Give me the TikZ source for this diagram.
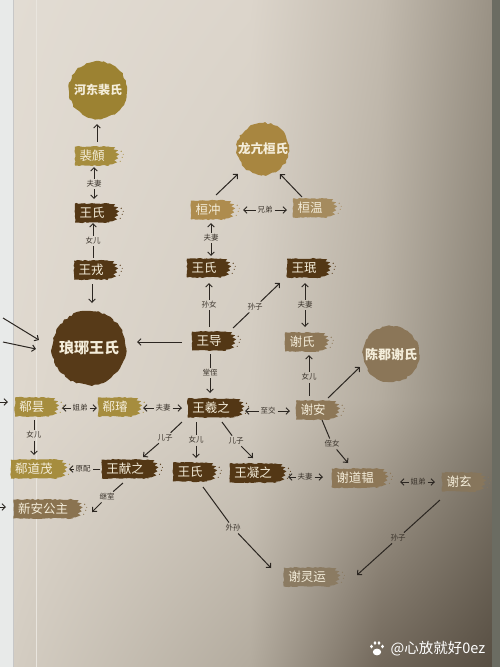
\documentclass[tikz,border=0pt]{standalone}
\usepackage{fontspec}
\setmainfont{Noto Sans CJK SC}
\newfontfamily\cjk{Noto Sans CJK SC}
\usetikzlibrary{arrows.meta,decorations.pathmorphing,shadings}
\definecolor{gA}{HTML}{E2DCD3}\definecolor{gB}{HTML}{DCD5CB}\definecolor{gC}{HTML}{C3BBAF}\definecolor{gD}{HTML}{9A9285}
\definecolor{gE}{HTML}{DFD8CE}\definecolor{gF}{HTML}{D2CBC0}\definecolor{gG}{HTML}{B4AC9F}\definecolor{gH}{HTML}{878073}
\definecolor{gI}{HTML}{D4CDC2}\definecolor{gJ}{HTML}{B3AB9E}\definecolor{gK}{HTML}{71675A}\definecolor{gL}{HTML}{574E42}
\definecolor{lstrip}{HTML}{E8EAE9}\definecolor{rstrip}{HTML}{6B6C62}
\definecolor{dkb}{HTML}{533715}
\definecolor{gold}{HTML}{A68D3E}
\definecolor{tanA}{HTML}{AE8C4E}
\definecolor{tanB}{HTML}{A58B5E}
\definecolor{taupe}{HTML}{8D7757}
\definecolor{xinanc}{HTML}{8A7350}
\definecolor{xlyc}{HTML}{8B7B62}
\definecolor{xxc}{HTML}{87765C}
\definecolor{cHD}{HTML}{9C8232}
\definecolor{cLK}{HTML}{A88640}
\definecolor{cLY}{HTML}{573A18}
\definecolor{cCJ}{HTML}{8B7658}
\definecolor{txtc}{HTML}{F4EDDA}
\definecolor{lnc}{HTML}{2B2621}
\definecolor{lbc}{HTML}{3A332B}
\tikzset{
  brushbox/.style={rectangle, fill=#1, text=txtc, font=\cjk\fontsize{12.5}{12.5}\selectfont,
    inner xsep=4.5pt, inner ysep=0pt, minimum height=19pt,
    decorate, decoration={random steps, segment length=2.5pt, amplitude=0.6pt}},
  blob/.style={circle, fill=#1, text=txtc, inner sep=0pt,
    decorate, decoration={random steps, segment length=3pt, amplitude=1pt}},
  ln/.style={draw=lnc, line width=1pt},
  arr/.style={ln, -{Straight Barb[length=3.3pt,width=6.5pt]}},
  rel/.style={font=\cjk\fontsize{7.5}{7.5}\selectfont, text=lbc, inner sep=1.8pt}
}
\newcommand\brushtail[2]{%
  \fill[#2, shift={(#1.north east)}] (-2,0.5) -- (6,1) -- (4,3) -- (9,4) -- (6,6) -- (10,8) -- (7,10)
    -- (9,12) -- (5,14) -- (8,16) -- (3,18) -- (-2,18.5) -- cycle;
  \fill[#2, shift={(#1.north east)}] (12,5) circle (0.7) (13,11) circle (0.6) (11,15) circle (0.6) (14,8) circle (0.5);
}
\begin{document}
\begin{tikzpicture}[x=1pt,y=-1pt]
\useasboundingbox (0,0) rectangle (500,667);
% background page
\shade[upper left=gA, upper right=gB, lower left=gE, lower right=gF] (13,0) rectangle (250,400);
\shade[upper left=gB, upper right=gC, lower left=gF, lower right=gG] (250,0) rectangle (380,400);
\shade[upper left=gC, upper right=gD, lower left=gG, lower right=gH] (380,0) rectangle (492,400);
\shade[upper left=gE, upper right=gF, lower left=gI, lower right=gJ] (13,400) rectangle (250,667);
\shade[upper left=gF, upper right=gG, lower left=gJ, lower right=gK] (250,400) rectangle (380,667);
\shade[upper left=gG, upper right=gH, lower left=gK, lower right=gL] (380,400) rectangle (492,667);
\fill[lstrip] (0,0) rectangle (13,667);
\draw[black!22, line width=0.8pt] (13,0) -- (13,667);
\draw[white!25!gA, line width=0.6pt] (36,0) -- (36,667);
\fill[rstrip] (492,0) rectangle (500,667);

% circles
\node[blob=cHD, minimum size=58pt, font=\cjk\bfseries\fontsize{12}{12}\selectfont] (hedong) at (98,90) {河东裴氏};
\node[blob=cLK, minimum size=52pt, font=\cjk\bfseries\fontsize{12.5}{12.5}\selectfont] (longkang) at (263,149) {龙亢桓氏};
\node[blob=cLY, minimum size=74pt, font=\cjk\bfseries\fontsize{15}{15}\selectfont] (langya) at (89,348) {琅琊王氏};
\node[blob=cCJ, minimum size=56pt, font=\cjk\bfseries\fontsize{13}{13}\selectfont] (chenjun) at (391,354) {陈郡谢氏};

% brush nodes
\node[brushbox=gold] (pei) at (92,156) {裴頠}; \brushtail{pei}{gold}
\node[brushbox=dkb] (wsL) at (92,213) {王氏}; \brushtail{wsL}{dkb}
\node[brushbox=dkb] (wrong) at (91,270) {王戎}; \brushtail{wrong}{dkb}
\node[brushbox=tanA] (hchong) at (208,210) {桓冲}; \brushtail{hchong}{tanA}
\node[brushbox=tanB] (hwen) at (310,208) {桓温}; \brushtail{hwen}{tanB}
\node[brushbox=dkb] (wsC) at (204,268) {王氏}; \brushtail{wsC}{dkb}
\node[brushbox=dkb] (wmin) at (304,268) {王珉}; \brushtail{wmin}{dkb}
\node[brushbox=dkb] (wdao) at (209,341) {王导}; \brushtail{wdao}{dkb}
\node[brushbox=taupe] (xieshi) at (302,342) {谢氏}; \brushtail{xieshi}{taupe}
\node[brushbox=taupe] (xiean) at (313,410) {谢安}; \brushtail{xiean}{taupe}
\node[brushbox=dkb] (wxz) at (211,408) {王羲之}; \brushtail{wxz}{dkb}
\node[brushbox=gold] (xixuan) at (115,407) {郗璿}; \brushtail{xixuan}{gold}
\node[brushbox=gold] (xitan) at (32,407) {郗昙}; \brushtail{xitan}{gold}
\node[brushbox=gold] (xdm) at (34,469) {郗道茂}; \brushtail{xdm}{gold}
\node[brushbox=dkb] (wxianzhi) at (125,469) {王献之}; \brushtail{wxianzhi}{dkb}
\node[brushbox=dkb] (wsM) at (190,472) {王氏}; \brushtail{wsM}{dkb}
\node[brushbox=dkb] (wningzhi) at (253,473) {王凝之}; \brushtail{wningzhi}{dkb}
\node[brushbox=taupe] (xdy) at (355,478) {谢道韫}; \brushtail{xdy}{taupe}
\node[brushbox=xxc] (xiexuan) at (459,482) {谢玄}; \brushtail{xiexuan}{xxc}
\node[brushbox=xinanc] (xinan) at (43,509) {新安公主}; \brushtail{xinan}{xinanc}
\node[brushbox=xlyc] (xly) at (307,577) {谢灵运}; \brushtail{xly}{xlyc}

% connectors
\draw[arr] ([shift={(5,-14)}]pei.center) -- ([shift={(-1,34)}]hedong.center);
\node[rel] (l2) at (94,184) {夫妻};
\draw[arr] (l2) -- ([shift={(2,11)}]pei.center);
\draw[arr] (l2) -- ([shift={(2,-14)}]wsL.center);
\node[rel] (l3) at (93,241) {女儿};
\draw[ln] ([shift={(2,-12)}]wrong.center) -- (l3);
\draw[arr] (l3) -- ([shift={(1,10)}]wsL.center);
\draw[arr] ([shift={(1,14)}]wrong.center) -- ([shift={(3,-45)}]langya.center);
\draw[arr] ([shift={(8,-15)}]hchong.center) -- ([shift={(-25,25)}]longkang.center);
\draw[arr] ([shift={(-8,-11)}]hwen.center) -- ([shift={(17,25)}]longkang.center);
\node[rel] (l7) at (265,210) {兄弟};
\draw[arr] (l7) -- ([shift={(35,0)}]hchong.center);
\draw[arr] (l7) -- ([shift={(-23,2)}]hwen.center);
\node[rel] (l8) at (211,238) {夫妻};
\draw[arr] (l8) -- ([shift={(3,13)}]hchong.center);
\draw[arr] (l8) -- ([shift={(7,-12)}]wsC.center);
\node[rel] (l9) at (209,305) {孙女};
\draw[ln] ([shift={(0,-14)}]wdao.center) -- (l9);
\draw[arr] (l9) -- ([shift={(5,15)}]wsC.center);
\node[rel] (l10) at (255,307) {孙子};
\draw[ln] ([shift={(24,-13)}]wdao.center) -- (l10);
\draw[arr] (l10) -- ([shift={(-24,15)}]wmin.center);
\node[rel] (l11) at (305,305) {夫妻};
\draw[arr] (l11) -- ([shift={(1,15)}]wmin.center);
\draw[arr] (l11) -- ([shift={(3,-15)}]xieshi.center);
\node[rel] (l12) at (309,377) {女儿};
\draw[ln] ([shift={(-4,-14)}]xiean.center) -- (l12);
\draw[arr] (l12) -- ([shift={(7,13)}]xieshi.center);
\draw[arr] ([shift={(15,-12)}]xiean.center) -- ([shift={(-31,13)}]chenjun.center);
\draw[arr] ([shift={(-27,1)}]wdao.center) -- ([shift={(48,-6)}]langya.center);
\coordinate (e1) at (3,318);
\coordinate (e2) at (3,342);
\draw[arr] (e1) -- ([shift={(-50,-8)}]langya.center);
\draw[arr] (e2) -- ([shift={(-53,1)}]langya.center);
\node[rel] (l16) at (210,373) {堂侄};
\draw[ln] ([shift={(1,13)}]wdao.center) -- (l16);
\draw[arr] (l16) -- ([shift={(-1,-15)}]wxz.center);
\node[rel] (l17) at (268,411) {至交};
\draw[arr] (l17) -- ([shift={(34,3)}]wxz.center);
\draw[arr] (l17) -- ([shift={(-23,1)}]xiean.center);
\node[rel] (l18) at (163,408) {夫妻};
\draw[arr] (l18) -- ([shift={(28,1)}]xixuan.center);
\draw[arr] (l18) -- ([shift={(-29,0)}]wxz.center);
\node[rel] (l19) at (80,408) {姐弟};
\draw[arr] (l19) -- ([shift={(30,1)}]xitan.center);
\draw[arr] (l19) -- ([shift={(-18,1)}]xixuan.center);
\coordinate (e3) at (0,402);
\draw[arr] (e3) -- ([shift={(-24,-5)}]xitan.center);
\node[rel] (l21) at (34,435) {女儿};
\draw[ln] ([shift={(2,13)}]xitan.center) -- (l21);
\draw[arr] (l21) -- ([shift={(0,-14)}]xdm.center);
\node[rel] (l22) at (165,438) {儿子};
\draw[ln] ([shift={(-29,14)}]wxz.center) -- (l22);
\draw[arr] (l22) -- ([shift={(18,-12)}]wxianzhi.center);
\node[rel] (l23) at (196,440) {女儿};
\draw[ln] ([shift={(-15,14)}]wxz.center) -- (l23);
\draw[arr] (l23) -- ([shift={(6,-14)}]wsM.center);
\node[rel] (l24) at (236,441) {儿子};
\draw[ln] ([shift={(11,14)}]wxz.center) -- (l24);
\draw[arr] (l24) -- ([shift={(0,-15)}]wningzhi.center);
\node[rel] (l25) at (83,469) {原配};
\draw[ln] ([shift={(-25,0)}]wxianzhi.center) -- (l25);
\draw[arr] (l25) -- ([shift={(35,0)}]xdm.center);
\node[rel] (l26) at (107,497) {继室};
\draw[ln] ([shift={(-2,14)}]wxianzhi.center) -- (l26);
\draw[arr] (l26) -- ([shift={(49,3)}]xinan.center);
\coordinate (e4) at (0,507);
\draw[arr] (e4) -- ([shift={(-37,-2)}]xinan.center);
\node[rel] (l28) at (305,477) {夫妻};
\draw[arr] (l28) -- ([shift={(35,4)}]wningzhi.center);
\draw[arr] (l28) -- ([shift={(-32,-1)}]xdy.center);
\node[rel] (l29) at (332,444) {侄女};
\draw[ln] ([shift={(9,10)}]xiean.center) -- (l29);
\draw[arr] (l29) -- ([shift={(-7,-15)}]xdy.center);
\node[rel] (l30) at (418,482) {姐弟};
\draw[arr] (l30) -- ([shift={(45,4)}]xdy.center);
\draw[arr] (l30) -- ([shift={(-24,0)}]xiexuan.center);
\node[rel] (l31) at (233,528) {外孙};
\draw[ln] ([shift={(13,15)}]wsM.center) -- (l31);
\draw[arr] (l31) -- ([shift={(-36,-9)}]xly.center);
\node[rel] (l32) at (398,538) {孙子};
\draw[ln] ([shift={(-19,18)}]xiexuan.center) -- (l32);
\draw[arr] (l32) -- ([shift={(50,-2)}]xly.center);

% watermark
\fill[white] (377,652) ellipse (4.2 and 3.4);
\fill[white] (371.5,646.5) ellipse (1.5 and 1.9) (375,643) ellipse (1.5 and 1.9) (379,643) ellipse (1.5 and 1.9) (382.5,646.5) ellipse (1.5 and 1.9);
\node[font=\cjk\fontsize{14.5}{14.5}\selectfont, text=white, inner sep=0pt] (wm) at (438,649) {@心放就好0ez};
\end{tikzpicture}
\end{document}
